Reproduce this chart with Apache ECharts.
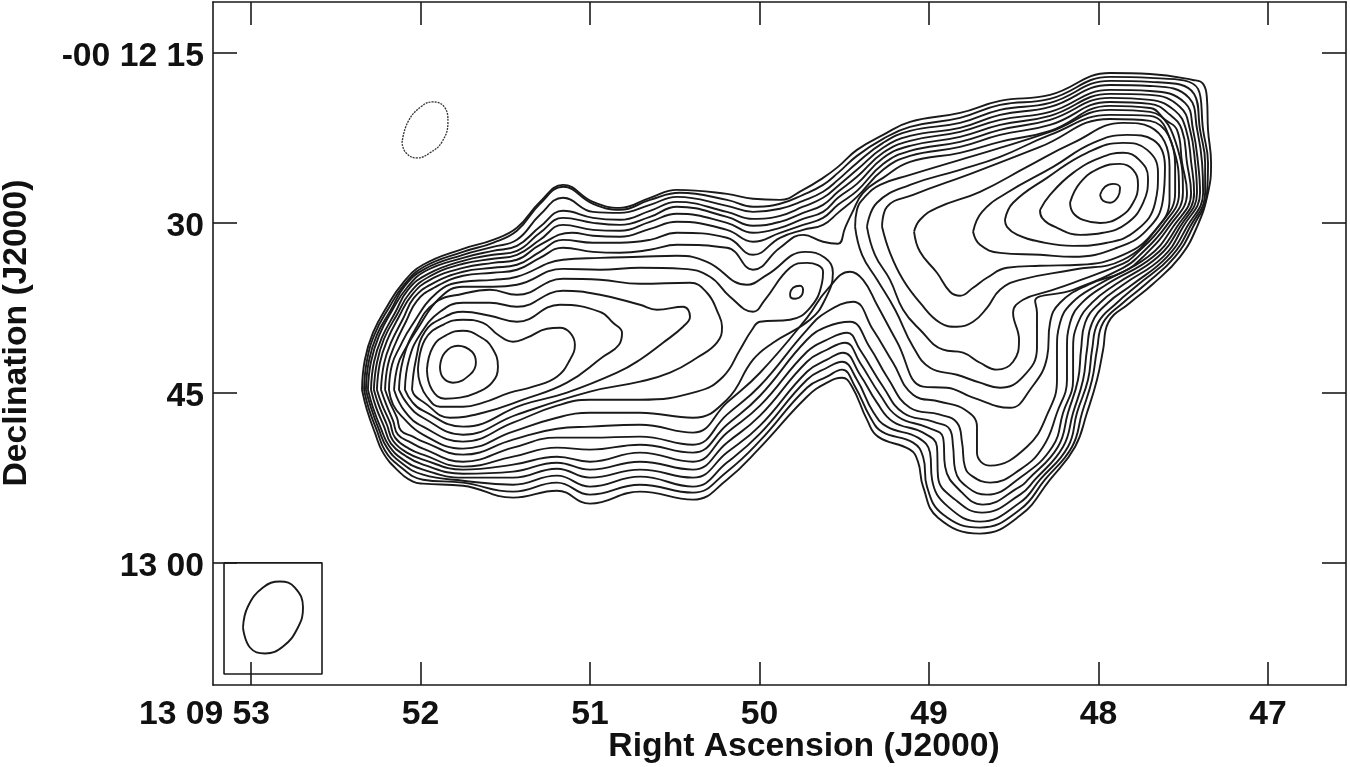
<!DOCTYPE html>
<html><head><meta charset="utf-8">
<style>html,body{margin:0;background:#fff}#c{width:1350px;height:767px}</style>
<script src="https://cdn.jsdelivr.net/npm/echarts@6/dist/echarts.min.js"></script>
</head><body><div id="c"></div>
<script>
const raTicks=[53,52,51,50,49,48,47];
const raLabels=['13 09 53','52','51','50','49','48','47'];
const decTicks=[15,30,45,60];
const decLabels=['-00 12 15','30','45','13 00'];
// contour paths: [RA seconds, Dec arcsec]
const N8=[[52.345,44.72],[52.328,42.07],[52.280,39.69],[52.198,37.40],[52.103,35.28],[51.985,33.69],[51.749,32.28],[51.572,31.49],[51.431,30.43],[51.295,28.14],[51.159,26.64],[50.982,28.14],[50.823,28.67],[50.646,27.78],[50.487,27.08],[50.192,27.43],[50.038,27.87],[49.879,27.96],[49.743,27.08],[49.625,26.02],[49.537,25.05],[49.425,23.55],[49.271,22.23],[49.112,21.08],[48.817,20.29],[48.581,19.23],[48.286,18.70],[47.932,16.76],[47.696,16.85],[47.444,17.38],[47.383,17.73],[47.360,19.14],[47.354,21.79],[47.336,24.70],[47.354,27.34],[47.419,30.34],[47.519,32.99],[47.684,35.46],[47.814,37.04],[47.943,38.81],[47.973,41.19],[48.009,43.84],[48.068,46.75],[48.138,49.75],[48.286,52.66],[48.463,55.83],[48.699,57.42],[48.947,56.01],[49.035,53.27],[49.065,51.07],[49.112,50.01],[49.301,48.86],[49.366,47.36],[49.454,44.45],[49.513,43.66],[49.602,44.10],[49.720,45.34],[49.997,49.83],[50.192,52.66],[50.392,54.42],[50.705,53.71],[51.000,54.77],[51.195,53.63],[51.454,54.24],[51.749,53.19],[51.985,53.01],[52.044,52.83],[52.139,51.77],[52.221,50.27],[52.269,48.51],[52.316,46.48]];
const N7=[[52.333,44.72],[52.316,42.16],[52.269,39.78],[52.186,37.49],[52.097,35.46],[51.979,33.87],[51.749,32.55],[51.572,31.75],[51.431,30.69],[51.295,28.31],[51.159,26.81],[50.982,28.31],[50.823,28.84],[50.646,27.96],[50.469,27.34],[50.192,27.96],[50.038,28.57],[49.879,28.31],[49.743,27.52],[49.625,26.64],[49.537,25.58],[49.425,24.08],[49.271,22.58],[49.112,21.52],[48.817,20.73],[48.581,19.58],[48.286,19.05],[47.932,17.11],[47.696,17.20],[47.413,18.17],[47.383,21.79],[47.354,24.70],[47.360,27.34],[47.442,30.34],[47.549,32.99],[47.726,35.46],[47.855,37.04],[47.973,38.81],[48.009,41.19],[48.038,43.84],[48.097,46.75],[48.156,49.75],[48.316,52.66],[48.463,55.30],[48.699,56.89],[48.917,55.74],[49.012,53.27],[49.035,50.63],[49.094,49.39],[49.278,48.42],[49.348,47.10],[49.436,44.45],[49.513,42.95],[49.602,43.57],[49.720,44.54],[49.997,49.22],[50.192,51.95],[50.392,53.80],[50.705,53.10],[51.000,53.98],[51.195,52.92],[51.454,53.71],[51.749,52.92],[51.985,52.66],[52.127,51.42],[52.209,50.10],[52.257,48.33],[52.305,46.39]];
const N6=[[52.322,44.72],[52.304,42.16],[52.257,39.87],[52.174,37.66],[52.092,35.55],[51.974,34.05],[51.749,32.81],[51.572,32.11],[51.431,31.49],[51.295,29.28],[51.159,27.78],[50.982,29.02],[50.823,29.11],[50.646,28.40],[50.487,27.70],[50.192,28.49],[50.038,29.02],[49.879,28.75],[49.743,28.05],[49.625,27.25],[49.537,26.20],[49.425,24.70],[49.271,22.93],[49.112,21.87],[48.817,21.17],[48.581,20.02],[48.286,19.40],[47.932,17.46],[47.696,17.55],[47.436,18.61],[47.401,21.79],[47.371,24.70],[47.371,27.34],[47.460,30.34],[47.572,32.99],[47.767,35.46],[47.891,37.04],[48.003,38.81],[48.038,41.19],[48.062,43.84],[48.127,46.75],[48.180,49.75],[48.345,52.66],[48.463,54.68],[48.699,56.36],[48.888,55.04],[48.982,52.66],[48.994,50.27],[49.065,48.95],[49.248,47.98],[49.330,46.66],[49.425,43.84],[49.513,42.25],[49.602,42.78],[49.720,43.84],[49.997,48.60],[50.192,51.15],[50.392,53.27],[50.705,52.39],[51.000,53.27],[51.195,52.30],[51.454,53.10],[51.749,52.75],[51.985,52.22],[52.115,51.15],[52.198,49.83],[52.245,48.25],[52.292,46.31]];
const N5=[[52.310,44.72],[52.292,42.25],[52.245,39.96],[52.168,37.75],[52.080,35.72],[51.968,34.22],[51.749,33.08],[51.572,32.46],[51.431,32.02],[51.295,30.34],[51.159,28.93],[50.982,29.55],[50.823,29.72],[50.646,28.93],[50.487,28.14],[50.192,29.02],[50.038,29.64],[49.879,29.37],[49.743,28.57],[49.625,27.78],[49.537,26.73],[49.425,25.31],[49.271,23.37],[49.112,22.32],[48.817,21.61],[48.581,20.46],[48.286,19.76],[47.932,17.82],[47.696,17.91],[47.466,18.96],[47.418,21.79],[47.389,24.70],[47.383,27.34],[47.478,30.34],[47.596,32.99],[47.802,35.46],[47.944,37.04],[48.038,38.81],[48.068,41.19],[48.091,43.84],[48.150,46.75],[48.209,49.75],[48.375,52.66],[48.463,53.98],[48.687,55.57],[48.846,54.42],[48.947,52.39],[48.953,49.75],[49.035,48.51],[49.212,47.54],[49.307,45.86],[49.407,43.39],[49.507,41.45],[49.602,42.07],[49.720,43.13],[49.997,47.89],[50.192,50.27],[50.392,52.48],[50.705,51.77],[51.000,52.48],[51.195,51.69],[51.454,52.48],[51.749,52.48],[51.985,51.77],[52.103,50.89],[52.186,49.66],[52.233,48.16],[52.280,46.31]];
const N4=[[52.292,44.72],[52.274,42.25],[52.228,40.13],[52.150,37.93],[52.074,35.90],[51.955,34.49],[51.749,33.34],[51.572,32.81],[51.431,32.46],[51.295,30.87],[51.159,29.55],[50.982,29.99],[50.823,30.17],[50.646,29.46],[50.487,28.57],[50.192,29.46],[50.038,30.25],[49.879,29.90],[49.743,29.11],[49.625,28.40],[49.537,27.25],[49.425,25.93],[49.271,23.81],[49.112,22.76],[48.817,21.96],[48.581,20.90],[48.286,20.20],[47.932,18.26],[47.696,18.35],[47.490,19.40],[47.442,21.79],[47.413,24.70],[47.401,27.34],[47.501,30.34],[47.619,32.99],[47.855,35.46],[47.991,37.04],[48.079,38.81],[48.103,41.19],[48.121,43.84],[48.180,46.75],[48.239,49.75],[48.416,52.66],[48.463,53.27],[48.682,54.86],[48.805,53.80],[48.905,51.51],[48.917,48.95],[49.006,48.07],[49.183,47.10],[49.289,45.16],[49.407,42.34],[49.495,40.57],[49.602,41.19],[49.720,42.25],[49.997,47.01],[50.192,49.39],[50.392,51.77],[50.705,51.07],[51.000,51.77],[51.195,51.16],[51.454,51.95],[51.749,52.13],[51.985,51.33],[52.091,50.53],[52.174,49.48],[52.215,47.98],[52.263,46.23]];
const N3=[[52.275,44.72],[52.257,42.34],[52.215,40.22],[52.139,38.10],[52.062,36.16],[51.950,34.75],[51.749,33.60],[51.572,33.16],[51.431,32.81],[51.295,31.49],[51.159,30.17],[50.982,30.61],[50.823,30.69],[50.646,29.90],[50.487,29.19],[50.192,29.99],[50.038,30.87],[49.879,30.43],[49.743,29.64],[49.625,29.02],[49.537,27.78],[49.425,26.55],[49.271,24.26],[49.112,23.20],[48.817,22.40],[48.581,21.35],[48.286,20.55],[47.932,18.61],[47.696,18.70],[47.519,19.76],[47.460,21.79],[47.430,24.70],[47.419,27.34],[47.519,30.34],[47.649,32.99],[47.903,35.46],[48.038,37.04],[48.121,38.81],[48.150,41.19],[48.150,43.84],[48.209,46.75],[48.272,49.75],[48.463,52.48],[48.658,53.98],[48.770,53.36],[48.846,51.77],[48.858,49.75],[48.876,48.25],[48.976,47.54],[49.153,46.75],[49.271,44.45],[49.407,41.19],[49.484,39.69],[49.602,40.31],[49.720,41.37],[49.997,46.13],[50.192,48.51],[50.392,51.07],[50.705,50.27],[51.000,51.07],[51.195,50.63],[51.454,51.33],[51.749,51.77],[51.985,50.89],[52.080,50.27],[52.162,49.22],[52.198,47.81],[52.245,46.13]];
const N2=[[52.257,44.72],[52.239,42.34],[52.198,40.40],[52.127,38.28],[52.050,36.34],[51.944,35.02],[51.749,33.96],[51.572,33.52],[51.431,33.25],[51.295,31.93],[51.107,30.87],[50.982,31.13],[50.823,31.22],[50.646,30.52],[50.487,29.90],[50.192,30.61],[50.038,31.66],[49.879,30.87],[49.743,30.17],[49.625,29.55],[49.537,28.40],[49.425,27.17],[49.271,24.79],[49.112,23.64],[48.817,22.84],[48.581,21.79],[48.286,20.90],[47.932,18.96],[47.696,19.14],[47.548,20.11],[47.483,21.79],[47.453,24.70],[47.436,27.34],[47.537,30.34],[47.678,32.99],[47.955,35.46],[48.097,37.04],[48.168,38.81],[48.186,41.19],[48.186,43.84],[48.245,46.75],[48.327,49.75],[48.463,51.77],[48.640,52.92],[48.741,52.39],[48.788,51.51],[48.805,49.39],[48.835,47.63],[48.935,46.92],[49.112,46.31],[49.248,43.57],[49.348,41.01],[49.466,38.72],[49.602,39.16],[49.720,40.31],[49.997,45.25],[50.192,47.81],[50.392,50.27],[50.705,49.57],[51.000,50.01],[51.195,49.83],[51.454,50.63],[51.749,51.51],[51.985,50.45],[52.068,49.92],[52.150,48.95],[52.180,47.63],[52.227,46.04]];
const N1=[[52.233,44.72],[52.215,42.42],[52.174,40.57],[52.103,38.46],[52.038,36.60],[51.932,35.37],[51.749,34.31],[51.572,33.96],[51.431,33.69],[51.295,32.55],[51.159,31.49],[50.982,31.75],[50.823,31.75],[50.646,31.49],[50.487,30.87],[50.192,31.31],[50.038,32.81],[49.879,31.31],[49.743,30.61],[49.625,30.17],[49.537,29.11],[49.425,27.70],[49.271,25.31],[49.112,24.08],[48.817,23.29],[48.581,22.23],[48.286,21.35],[47.932,19.32],[47.696,19.49],[47.578,20.46],[47.508,21.79],[47.478,24.70],[47.454,27.34],[47.560,30.34],[47.708,32.99],[48.003,35.46],[48.156,37.04],[48.227,38.81],[48.245,41.19],[48.245,43.84],[48.298,46.75],[48.422,49.75],[48.640,51.42],[48.717,50.27],[48.717,47.98],[48.788,46.48],[48.935,45.78],[49.094,45.16],[49.212,42.34],[49.330,39.43],[49.448,36.96],[49.602,37.84],[49.720,39.43],[49.997,44.37],[50.192,46.92],[50.392,49.57],[50.705,48.86],[51.000,48.95],[51.195,48.95],[51.454,49.83],[51.749,51.07],[51.985,49.92],[52.056,49.39],[52.133,48.69],[52.162,47.45],[52.204,45.95]];
const N0=[[52.209,44.72],[52.192,42.51],[52.151,40.75],[52.086,38.72],[52.021,36.87],[51.920,35.72],[51.749,34.66],[51.572,34.40],[51.431,34.13],[51.295,33.08],[51.159,32.19],[50.982,32.55],[50.823,32.63],[50.646,32.37],[50.487,31.93],[50.192,32.19],[50.038,34.13],[49.879,32.19],[49.743,31.05],[49.625,31.66],[49.537,31.84],[49.495,30.43],[49.454,29.11],[49.389,27.34],[49.271,26.02],[49.112,24.61],[48.817,23.81],[48.581,22.84],[48.286,21.87],[47.932,19.67],[47.696,19.85],[47.607,20.90],[47.537,21.79],[47.507,24.70],[47.478,27.34],[47.584,30.34],[47.737,32.99],[47.855,34.31],[48.062,35.46],[48.227,37.04],[48.286,38.81],[48.303,41.81],[48.404,44.72],[48.522,46.31],[48.740,45.42],[48.894,44.54],[49.035,44.45],[49.189,40.48],[49.307,37.22],[49.389,35.02],[49.466,34.31],[49.602,35.90],[49.720,38.37],[49.997,43.22],[50.192,45.86],[50.392,48.51],[50.705,47.81],[51.000,47.98],[51.195,48.16],[51.454,49.13],[51.749,50.45],[51.985,49.30],[52.044,48.86],[52.115,48.33],[52.139,47.19],[52.180,45.86]];
const C2=[[52.186,44.72],[52.168,42.51],[52.121,40.92],[52.056,39.16],[51.903,36.16],[51.749,35.19],[51.572,35.02],[51.431,34.75],[51.159,33.25],[50.941,33.08],[50.705,32.99],[50.487,32.90],[50.310,33.43],[50.074,35.46],[49.956,34.58],[49.731,32.55],[49.614,33.08],[49.567,34.40],[49.614,36.78],[49.702,38.54],[49.920,40.57],[50.038,42.07],[50.192,45.60],[50.392,47.19],[50.705,46.75],[51.000,46.75],[51.195,47.19],[51.454,48.42],[51.749,49.92],[51.985,48.69],[52.109,47.10],[52.162,46.04]];
const C1=[[52.156,44.72],[52.133,42.51],[52.092,41.19],[52.021,39.43],[51.885,36.60],[51.749,35.63],[51.572,35.63],[51.431,35.46],[51.159,34.05],[50.941,34.13],[50.705,33.96],[50.451,34.05],[50.292,34.75],[50.174,36.51],[50.038,37.84],[49.968,36.78],[49.820,33.96],[49.720,33.52],[49.625,34.31],[49.631,35.28],[49.702,37.49],[49.820,38.54],[49.997,38.72],[50.044,39.43],[50.115,41.19],[50.215,43.57],[50.369,44.89],[50.705,45.60],[51.000,45.60],[51.195,46.13],[51.454,47.63],[51.749,49.30],[51.985,47.98],[52.091,46.66]];
const LL1=[[52.127,44.72],[52.103,42.07],[52.032,39.43],[51.914,37.04],[51.749,36.25],[51.590,35.90],[51.431,36.34],[51.159,34.93],[50.941,35.02],[50.705,35.37],[50.410,35.28],[50.310,36.16],[50.245,37.93],[50.221,39.16],[50.251,40.57],[50.369,41.90],[50.528,43.22],[50.705,44.01],[51.000,44.89],[51.431,46.92],[51.749,48.69],[51.985,47.19],[52.074,46.04]];
const LL2=[[52.092,44.72],[52.068,42.07],[52.003,39.87],[51.885,37.84],[51.749,37.04],[51.590,37.04],[51.431,37.40],[51.159,35.99],[50.941,36.34],[50.705,37.22],[50.605,37.66],[50.451,37.40],[50.410,38.28],[50.451,39.16],[50.569,40.57],[50.705,42.07],[50.841,43.22],[51.136,44.98],[51.395,46.04],[51.749,47.98],[51.985,46.57],[52.050,45.78]];
const LL3=[[52.050,44.72],[52.027,42.07],[51.974,39.60],[51.867,38.37],[51.749,37.84],[51.590,38.19],[51.431,38.72],[51.177,37.22],[50.941,37.84],[50.864,38.81],[50.811,39.69],[50.829,40.75],[50.923,41.81],[51.136,44.10],[51.395,45.60],[51.631,46.75],[51.826,47.19],[51.985,45.78],[52.032,45.25]];
const LLc=[[52.015,42.95],[51.974,40.31],[51.867,38.99],[51.749,38.54],[51.631,38.81],[51.543,39.87],[51.454,40.48],[51.372,40.13],[51.254,39.34],[51.177,39.25],[51.118,39.69],[51.089,40.75],[51.118,42.07],[51.195,43.57],[51.336,44.45],[51.472,44.98],[51.631,45.86],[51.749,46.22],[51.885,46.22],[51.962,45.34],[52.003,44.10]];
const LLb=[[51.962,42.95],[51.926,40.92],[51.844,39.87],[51.749,39.51],[51.649,40.04],[51.578,41.01],[51.543,42.69],[51.578,44.10],[51.667,44.98],[51.767,45.42],[51.856,45.51],[51.932,44.72]];
const LLa=[[51.885,42.69],[51.856,41.45],[51.779,40.84],[51.696,41.37],[51.673,42.34],[51.708,43.39],[51.808,44.10],[51.867,43.66]];
const centerPeak=[[49.820,36.25],[49.802,35.72],[49.761,35.54],[49.743,35.90],[49.749,36.34],[49.790,36.69],[49.814,36.60]];
const R9=[[49.436,30.34],[49.425,28.84],[49.378,27.70],[49.289,26.64],[49.112,25.76],[48.817,24.43],[48.581,23.38],[48.286,21.96],[47.932,20.02],[47.696,20.20],[47.531,23.55],[47.502,27.34],[47.596,30.17],[47.767,32.99],[47.855,33.96],[48.150,35.90],[48.374,36.90],[48.363,37.93],[48.363,41.01],[48.445,43.57],[48.581,44.54],[48.699,44.10],[48.835,43.40],[48.994,42.78],[49.094,40.92],[49.200,37.66],[49.306,35.02],[49.395,32.81]];
const R8=[[49.366,30.34],[49.307,28.22],[49.112,26.64],[48.817,25.31],[48.581,24.17],[48.286,22.23],[47.932,20.46],[47.696,20.55],[47.566,23.11],[47.525,27.34],[47.619,30.17],[47.796,32.99],[47.855,33.60],[48.150,35.28],[48.304,36.07],[48.445,36.78],[48.504,37.93],[48.469,40.31],[48.504,42.25],[48.599,42.95],[48.699,42.34],[48.799,41.45],[48.917,41.19],[49.053,39.43],[49.153,37.66],[49.230,35.02],[49.319,32.81]];
const R7=[[49.277,30.34],[49.248,28.58],[49.094,27.52],[48.740,25.58],[48.345,23.29],[47.932,20.82],[47.696,20.99],[47.548,24.87],[47.548,27.34],[47.649,30.34],[47.855,33.25],[48.150,34.13],[48.463,35.02],[48.581,35.90],[48.658,37.49],[48.740,38.72],[48.835,39.16],[48.935,38.81],[49.053,37.04],[49.153,35.02],[49.230,32.64]];
const R6=[[49.088,30.78],[49.053,29.72],[48.953,28.67],[48.699,27.25],[48.422,25.05],[48.150,22.93],[47.855,21.17],[47.696,21.52],[47.581,25.05],[47.581,27.96],[47.679,30.87],[47.855,32.82],[48.109,33.69],[48.345,33.78],[48.540,33.96],[48.658,34.84],[48.740,35.72],[48.817,36.43],[48.876,36.07],[48.953,34.40],[49.053,32.55]];
const R5=[[48.740,30.78],[48.687,29.02],[48.540,27.34],[48.268,25.05],[48.032,22.93],[47.832,22.23],[47.678,22.67],[47.608,25.05],[47.620,27.96],[47.714,30.61],[47.891,32.19],[48.150,32.99],[48.345,32.81],[48.581,32.64],[48.699,31.93]];
const R4=[[48.552,29.72],[48.504,28.22],[48.304,26.02],[48.068,23.81],[47.855,22.93],[47.713,23.55],[47.649,25.58],[47.666,28.22],[47.773,30.61],[47.950,31.75],[48.150,32.02],[48.345,31.66],[48.481,31.04],[48.540,30.34]];
const R3=[[48.345,28.85],[48.286,27.52],[48.150,25.58],[47.991,24.26],[47.855,23.81],[47.760,24.43],[47.708,26.02],[47.737,28.22],[47.832,30.02],[47.973,30.87],[48.109,31.05],[48.245,30.43],[48.333,29.55]];
const R2=[[48.168,28.22],[48.109,26.46],[47.991,25.14],[47.873,24.79],[47.796,25.31],[47.767,26.64],[47.796,28.22],[47.873,29.46],[47.991,30.0],[48.091,29.73],[48.150,29.11]];
const R1=[[47.991,27.52],[47.962,26.81],[47.914,26.55],[47.873,26.90],[47.885,27.69],[47.932,28.22],[47.973,28.05]];
const ghostIsland=[[52.109,22.93],[52.074,21.08],[51.991,19.67],[51.926,19.32],[51.855,19.85],[51.838,21.08],[51.873,22.84],[51.944,23.81],[52.021,24.26],[52.086,23.81]];
const beam=[[53.047,65.71],[53.018,63.85],[52.929,62.18],[52.829,61.65],[52.741,62.18],[52.693,63.95],[52.723,65.71],[52.811,67.39],[52.917,68.00],[53.006,67.47]];
const beamBox=[[53.159,60],[52.581,60],[52.581,69.81],[53.159,69.81]];

const contours=[N8,N7,N6,N5,N4,N3,N2,N1,N0,C2,C1,LL1,LL2,LL3,LLc,LLb,LLa,centerPeak,R9,R8,R7,R6,R5,R4,R3,R2,R1,beam];
const closed=p=>p.concat([p[0]]);
const ink='#1a1a1a';
const series=contours.map(p=>({type:'line',data:closed(p),smooth:0.45,symbol:'none',silent:true,clip:true,lineStyle:{color:ink,width:1.9}}));
series.push({type:'line',data:closed(ghostIsland),smooth:0.45,symbol:'none',silent:true,lineStyle:{color:'#333',width:1.3,type:[2,1]}});
series.push({type:'line',data:closed(beamBox),symbol:'none',silent:true,lineStyle:{color:ink,width:1.6}});

const F='"Liberation Sans",Arial,sans-serif', FS=33.7;
const labelFont={color:'#111',fontFamily:F,fontWeight:'bold',fontSize:FS};
const axisLine={show:true,onZero:false,lineStyle:{color:ink,width:1.6}};
const mkX=(pos,lab)=>({type:'value',min:46.54,max:53.224,inverse:true,position:pos,splitLine:{show:false},axisLine,
  axisTick:{show:true,inside:true,length:23,customValues:raTicks,lineStyle:{color:ink,width:1.6}},
  axisLabel:lab?{show:true,customValues:raTicks,margin:13,...labelFont,
    formatter:v=>{const i=raTicks.indexOf(v);return i===0?'{lead|'+raLabels[0]+'}':(i<0?'':raLabels[i]);},
    rich:{lead:{padding:[0,93,0,0],...labelFont}}}:{show:false},
  name:lab?'Right Ascension (J2000)':'',nameLocation:'middle',nameGap:45,nameMoveOverlap:false,
  nameTextStyle:{...labelFont,padding:[0,0,0,49]}});
const mkY=(pos,lab)=>({type:'value',min:10.5,max:70.78,inverse:true,position:pos,splitLine:{show:false},axisLine,
  axisTick:{show:true,inside:true,length:24,customValues:decTicks,lineStyle:{color:ink,width:1.6}},
  axisLabel:lab?{show:true,customValues:decTicks,margin:9,...labelFont,
    formatter:v=>{const i=decTicks.indexOf(v);return i<0?'':'{d|'+decLabels[i]+'}';},
    rich:{d:{padding:[8,0,0,0],...labelFont}}}:{show:false},
  name:lab?'Declination (J2000)':'',nameLocation:'middle',nameGap:179,nameMoveOverlap:false,
  nameTextStyle:{...labelFont,padding:[0,0,0,21]}});
const chart=echarts.init(document.getElementById('c'),null,{renderer:'canvas'});
chart.setOption({animation:false,backgroundColor:'#fff',
  grid:{left:213,right:4,top:2,bottom:82,containLabel:false,outerBoundsMode:'none'},
  xAxis:[mkX('bottom',true),mkX('top',false)],
  yAxis:[mkY('left',true),mkY('right',false)],
  series});
</script></body></html>
